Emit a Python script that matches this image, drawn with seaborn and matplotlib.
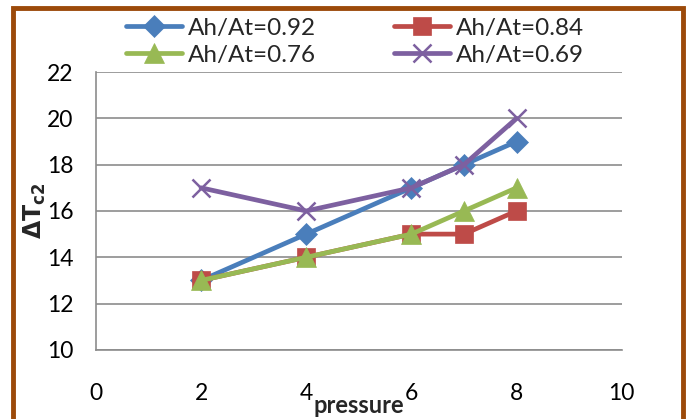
import matplotlib
matplotlib.use("Agg")
import matplotlib.pyplot as plt
import seaborn as sns
import pandas as pd
from matplotlib.patches import Rectangle

pressure = [2, 4, 6, 7, 8]
series_names = ["Ah/At=0.92", "Ah/At=0.84", "Ah/At=0.76", "Ah/At=0.69"]
v092 = [13, 15, 17, 18, 19]
v084 = [13, 14, 15, 15, 16]
v076 = [13, 14, 15, 16, 17]
v069 = [17, 16, 17, 18, 20]
x_ticks = [0, 2, 4, 6, 8, 10]
y_ticks = [10, 12, 14, 16, 18, 20, 22]

colors = ["#4A7EBB", "#BE4B48", "#98B954", "#7D60A0"]
markers = ["D", "s", "^", "x"]
msizes = [11, 13, 15, 13]

sns.set_style("white")
plt.rcParams['font.family'] = ['Lato', 'DejaVu Sans']

frames = []
for name, vals in zip(series_names, [v092, v084, v076, v069]):
    frames.append(pd.DataFrame({"pressure": pressure, "dT": vals, "series": name}))
df = pd.concat(frames, ignore_index=True)

fig = plt.figure(figsize=(6.9, 4.19), dpi=100)
ax = fig.add_axes([0.139, 0.165, 0.762, 0.663])

for name, c, m, ms in zip(series_names, colors, markers, msizes):
    sub = df[df["series"] == name]
    sns.lineplot(data=sub, x="pressure", y="dT", ax=ax, color=c, marker=m,
                 markersize=ms, linewidth=3.4, label=name,
                 markeredgecolor=c, markeredgewidth=1.8 if m == "x" else 0.5)

ax.set_xlim(0, 10)
ax.set_ylim(10, 22)
ax.set_xticks(x_ticks)
ax.set_yticks(y_ticks)
ax.yaxis.grid(True, color="#8C8C8C", linewidth=1.2)
ax.xaxis.grid(False)
ax.set_axisbelow(True)
for s in ["top", "right"]:
    ax.spines[s].set_visible(False)
for s in ["left", "bottom"]:
    ax.spines[s].set_color("#8C8C8C")
    ax.spines[s].set_linewidth(1.2)
ax.tick_params(axis="both", direction="out", length=6, width=1.2, color="#8C8C8C",
               labelsize=16.5, labelcolor="black")
ax.tick_params(axis="x", pad=18)
ax.tick_params(axis="y", pad=10)

ax.set_xlabel("pressure", fontsize=17, fontweight="bold", labelpad=-7)
ax.set_ylabel(r"$\mathbf{\Delta T}_{\mathbf{c2}}$", fontsize=17, labelpad=-1)

ax.get_legend().remove()
handles, labels = ax.get_legend_handles_labels()
order = [0, 2, 1, 3]
fig.legend([handles[i] for i in order], [labels[i] for i in order],
           loc="center", bbox_to_anchor=(0.515, 0.9), ncol=2,
           frameon=False, fontsize=17.5, handlelength=2.3, handletextpad=0.25,
           columnspacing=3.2, labelspacing=0.25)

rect = Rectangle((0.019, -0.05), 0.971, 0.981 + 0.05, transform=fig.transFigure,
                 fill=False, edgecolor="#9C4A0A", linewidth=3.5, clip_on=False)
fig.patches.append(rect)

fig.savefig("out.png", dpi=100)
